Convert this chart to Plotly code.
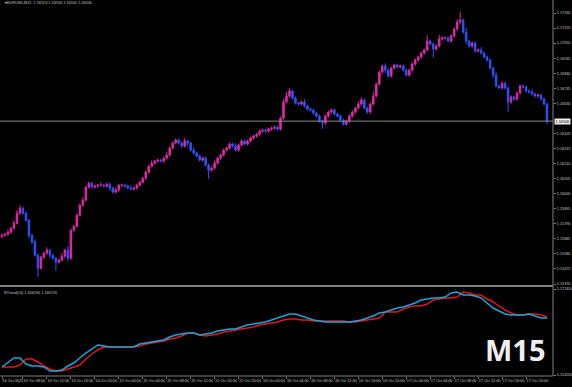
import plotly.graph_objects as go
import pandas as pd

# ---------------- data ----------------
symbol_title = "EURUSD,M15  1.16523 1.16530 1.16501 1.16506"
indicator_title = "NTrend(14) 1.166290 1.166726"
timeframe_label = "M15"

first_open = 1.15700
closes = [
    1.15710, 1.15717, 1.15731, 1.15759, 1.15794, 1.15864, 1.15899, 1.15864, 1.15815, 1.15710,
    1.15662, 1.15571, 1.15480, 1.15557, 1.15585, 1.15606, 1.15571, 1.15550, 1.15522, 1.15536,
    1.15564, 1.15606, 1.15550, 1.15745, 1.15773, 1.15850, 1.15920, 1.15955, 1.16046, 1.16073,
    1.16046, 1.16053, 1.16059, 1.16059, 1.16053, 1.16066, 1.16039, 1.16011, 1.16025, 1.16059,
    1.16059, 1.16053, 1.16039, 1.16032, 1.16039, 1.16059, 1.16080, 1.16108, 1.16150, 1.16192,
    1.16213, 1.16227, 1.16234, 1.16227, 1.16248, 1.16269, 1.16318, 1.16353, 1.16374, 1.16353,
    1.16332, 1.16367, 1.16353, 1.16304, 1.16283, 1.16262, 1.16234, 1.16248, 1.16199, 1.16164,
    1.16178, 1.16213, 1.16248, 1.16269, 1.16304, 1.16318, 1.16346, 1.16332, 1.16304, 1.16339,
    1.16367, 1.16346, 1.16367, 1.16388, 1.16401, 1.16415, 1.16436, 1.16443, 1.16436, 1.16450,
    1.16457, 1.16464, 1.16450, 1.16527, 1.16639, 1.16681, 1.16716, 1.16667, 1.16632, 1.16625,
    1.16639, 1.16611, 1.16590, 1.16583, 1.16562, 1.16541, 1.16506, 1.16492, 1.16541, 1.16569,
    1.16583, 1.16555, 1.16541, 1.16513, 1.16485, 1.16506, 1.16541, 1.16569, 1.16597, 1.16625,
    1.16653, 1.16597, 1.16569, 1.16625, 1.16681, 1.16764, 1.16848, 1.16890, 1.16862, 1.16820,
    1.16876, 1.16897, 1.16883, 1.16890, 1.16862, 1.16827, 1.16862, 1.16904, 1.16932, 1.16953,
    1.16981, 1.17002, 1.17065, 1.17044, 1.17009, 1.17030, 1.17079, 1.17086, 1.17086, 1.17065,
    1.17100, 1.17148, 1.17197, 1.17211, 1.17127, 1.17065, 1.17030, 1.17051, 1.16995, 1.17002,
    1.16981, 1.16953, 1.16932, 1.16876, 1.16827, 1.16751, 1.16737, 1.16771, 1.16737, 1.16639,
    1.16674, 1.16660, 1.16702, 1.16751, 1.16744, 1.16716, 1.16709, 1.16695, 1.16681, 1.16688,
    1.16660, 1.16625, 1.16506,
]
# wick lengths beyond the body, in pips
wick_up = [
    1, 1, 2, 1, 2, 2, 2, 1, 1, 1, 1, 2, 1, 1, 1, 2, 1, 1, 1, 1,
    2, 1, 3, 1, 1, 1, 1, 2, 1, 1, 1, 1, 1, 2, 1, 1, 1, 1, 2, 1,
    1, 1, 1, 2, 1, 1, 1, 1, 1, 1, 2, 1, 1, 1, 1, 2, 1, 1, 1, 1,
    1, 2, 1, 1, 2, 1, 1, 1, 1, 1, 1, 2, 1, 1, 1, 1, 1, 1, 2, 1,
    1, 1, 1, 1, 1, 1, 1, 1, 1, 1, 1, 1, 1, 1, 2, 3, 2, 1, 1, 1,
    1, 2, 1, 1, 1, 1, 1, 1, 1, 1, 1, 1, 1, 1, 1, 1, 1, 1, 1, 2,
    2, 1, 1, 1, 3, 1, 1, 1, 2, 1, 1, 1, 1, 1, 1, 1, 1, 1, 1, 1,
    1, 1, 4, 1, 1, 1, 3, 1, 1, 1, 1, 1, 2, 6, 1, 3, 1, 1, 1, 1,
    2, 1, 1, 1, 1, 2, 1, 1, 1, 1, 1, 1, 1, 1, 1, 1, 1, 2, 1, 1,
    1, 1, 1,
]
wick_down = [
    1, 1, 1, 1, 1, 1, 1, 1, 1, 2, 1, 1, 6, 1, 1, 1, 2, 1, 6, 1,
    1, 1, 2, 1, 1, 1, 1, 1, 1, 1, 1, 1, 1, 1, 1, 1, 2, 1, 1, 1,
    1, 1, 1, 1, 1, 1, 1, 1, 1, 1, 1, 1, 1, 1, 1, 1, 1, 1, 1, 1,
    1, 1, 2, 1, 1, 1, 1, 1, 1, 6, 1, 1, 1, 1, 1, 1, 1, 1, 1, 1,
    1, 1, 1, 1, 1, 1, 1, 1, 1, 1, 1, 1, 1, 1, 1, 1, 1, 1, 1, 1,
    1, 1, 1, 1, 1, 1, 1, 4, 1, 1, 1, 1, 1, 1, 1, 1, 1, 1, 1, 1,
    1, 1, 1, 1, 1, 1, 1, 1, 2, 1, 1, 1, 1, 1, 1, 1, 1, 1, 1, 1,
    1, 1, 1, 1, 6, 1, 1, 1, 1, 1, 1, 1, 1, 1, 1, 2, 1, 1, 1, 1,
    1, 1, 1, 1, 2, 1, 1, 1, 1, 7, 1, 1, 1, 1, 1, 1, 1, 1, 1, 1,
    1, 1, 2,
]

# indicator lines (one value every 2 bars)
cyan_vals = [
    1.15590, 1.15696, 1.15781, 1.15781, 1.15653, 1.15611, 1.15611, 1.15590, 1.15505, 1.15505,
    1.15526, 1.15611, 1.15675, 1.15781, 1.15887, 1.15972, 1.16057, 1.16036, 1.16014, 1.16014,
    1.16014, 1.16014, 1.16014, 1.16078, 1.16099, 1.16120, 1.16142, 1.16163, 1.16227, 1.16269,
    1.16290, 1.16312, 1.16312, 1.16269, 1.16290, 1.16312, 1.16354, 1.16375, 1.16396, 1.16396,
    1.16439, 1.16481, 1.16503, 1.16524, 1.16545, 1.16587, 1.16630, 1.16672, 1.16715, 1.16715,
    1.16672, 1.16630, 1.16587, 1.16566, 1.16545, 1.16545, 1.16545, 1.16545, 1.16545, 1.16566,
    1.16587, 1.16630, 1.16672, 1.16736, 1.16757, 1.16800, 1.16842, 1.16863, 1.16906, 1.16948,
    1.17012, 1.17033, 1.17054, 1.17054, 1.17076, 1.17161, 1.17182, 1.17118, 1.17118, 1.17097,
    1.17054, 1.16948, 1.16842, 1.16778, 1.16715, 1.16694, 1.16694, 1.16694, 1.16715, 1.16672,
    1.16630, 1.16630,
]
red_vals = [
    1.15590, 1.15590, 1.15590, 1.15632, 1.15760, 1.15760, 1.15696, 1.15611, 1.15547, 1.15505,
    1.15505, 1.15547, 1.15590, 1.15632, 1.15760, 1.15866, 1.15951, 1.16014, 1.16014, 1.16014,
    1.16014, 1.16014, 1.16014, 1.16036, 1.16078, 1.16099, 1.16120, 1.16142, 1.16184, 1.16205,
    1.16248, 1.16312, 1.16312, 1.16269, 1.16248, 1.16269, 1.16290, 1.16333, 1.16354, 1.16375,
    1.16396, 1.16418, 1.16439, 1.16481, 1.16503, 1.16524, 1.16545, 1.16587, 1.16609, 1.16609,
    1.16587, 1.16587, 1.16566, 1.16566, 1.16566, 1.16566, 1.16566, 1.16566, 1.16545, 1.16545,
    1.16566, 1.16587, 1.16609, 1.16630, 1.16757, 1.16757, 1.16757, 1.16821, 1.16863, 1.16885,
    1.16885, 1.16927, 1.17012, 1.17033, 1.17054, 1.17054, 1.17076, 1.17182, 1.17161, 1.17118,
    1.17118, 1.17033, 1.16970, 1.16885, 1.16800, 1.16736, 1.16694, 1.16694, 1.16715, 1.16715,
    1.16694, 1.16651,
]

price_tick_labels = [
    "1.15370", "1.15475", "1.15580", "1.15685", "1.15790", "1.15895", "1.16000",
    "1.16105", "1.16210", "1.16315", "1.16420", "1.16630", "1.16735", "1.16840",
    "1.16945", "1.17050", "1.17155", "1.17260",
]
ind_tick_labels = ["1.154200", "1.172454"]
time_tick_labels = [
    "14 Oct 2025", "14 Oct 08:00", "14 Oct 12:00", "14 Oct 16:00", "14 Oct 20:00",
    "15 Oct 00:00", "15 Oct 04:00", "15 Oct 08:00", "15 Oct 12:00", "15 Oct 16:00",
    "15 Oct 20:00", "16 Oct 00:00", "16 Oct 04:00", "16 Oct 08:00", "16 Oct 12:00",
    "16 Oct 16:00", "16 Oct 20:00", "17 Oct 00:00", "17 Oct 04:00", "17 Oct 08:00",
    "17 Oct 12:00", "17 Oct 16:00", "17 Oct 20:00",
]

# ---------------- derived ----------------
start = pd.Timestamp("2025-10-14 04:30")
times = pd.date_range(start, periods=len(closes), freq="30min")
opens = [first_open] + closes[:-1]
highs = [max(o, c) + u * 0.0001 for o, c, u in zip(opens, closes, wick_up)]
lows = [min(o, c) - d * 0.0001 for o, c, d in zip(opens, closes, wick_down)]
ind_times = times[::2]

tick_vals = []
for lab in time_tick_labels:
    if ":" in lab:
        tick_vals.append(pd.to_datetime("2025 " + lab, format="%Y %d %b %H:%M"))
    else:
        tick_vals.append(start)

FG = "#c8c8c8"
GRID = "#808080"
BULL = "#e626a8"
BEAR = "#2a55ff"
SMALL = dict(family="Liberation Sans, Arial", size=3.8, color=FG)

fig = go.Figure()
fig.add_trace(go.Candlestick(
    x=times, open=opens, high=highs, low=lows, close=closes,
    xaxis="x2", yaxis="y2",
    increasing=dict(line=dict(color=BULL, width=1), fillcolor=BULL),
    decreasing=dict(line=dict(color=BEAR, width=1), fillcolor=BEAR),
    whiskerwidth=0, showlegend=False, hoverinfo="skip",
))
fig.add_trace(go.Scatter(
    x=ind_times[:len(red_vals)], y=red_vals, mode="lines",
    line=dict(color="#e21818", width=1.5), showlegend=False, hoverinfo="skip",
))
fig.add_trace(go.Scatter(
    x=ind_times[:len(cyan_vals)], y=cyan_vals, mode="lines",
    line=dict(color="#1aa6dc", width=1.5), showlegend=False, hoverinfo="skip",
))

x_range = [start - pd.Timedelta(minutes=20), start + pd.Timedelta(hours=92)]

top_dom = [(376 - 285) / 376, 1.0]
bot_dom = [0.0, (376 - 288) / 376]

fig.update_layout(
    width=572, height=387,
    margin=dict(l=0, r=19, t=0, b=11),
    paper_bgcolor="black", plot_bgcolor="black",
    showlegend=False,
    xaxis=dict(
        domain=[0, 1], anchor="y", range=x_range,
        tickvals=tick_vals, ticktext=time_tick_labels, tickangle=0,
        ticklabelposition="outside right", ticks="outside", ticklen=2,
        tickcolor=GRID, tickfont=SMALL, showgrid=False, zeroline=False,
        showline=False, rangeslider=dict(visible=False),
    ),
    xaxis2=dict(
        domain=[0, 1], anchor="y2", matches="x", range=x_range,
        showticklabels=False, showgrid=False, zeroline=False, showline=False,
        ticks="", rangeslider=dict(visible=False),
    ),
    yaxis=dict(
        domain=bot_dom, range=[1.15399, 1.17267], side="right",
        tickvals=[float(v) for v in ind_tick_labels], ticktext=ind_tick_labels,
        ticks="outside", ticklen=2, tickcolor=GRID, tickfont=SMALL,
        showgrid=False, zeroline=False, showline=False,
    ),
    yaxis2=dict(
        domain=top_dom, range=[1.15363, 1.17351], side="right", anchor="x2",
        tickvals=[float(v) for v in price_tick_labels], ticktext=price_tick_labels,
        ticks="outside", ticklen=2, tickcolor=GRID, tickfont=SMALL,
        showgrid=False, zeroline=False, showline=False,
    ),
)

shapes = [
    # bid line
    dict(type="line", xref="paper", x0=0, x1=1, yref="y2",
         y0=closes[-1], y1=closes[-1], line=dict(color="#8a8a8a", width=1)),
    # right axis line
    dict(type="line", xref="paper", x0=1, x1=1, yref="paper", y0=0, y1=1,
         line=dict(color=GRID, width=1)),
    # pane separator
    dict(type="line", xref="paper", x0=0, x1=1, yref="paper",
         y0=(376 - 286) / 376, y1=(376 - 286) / 376, line=dict(color=GRID, width=2)),
    # bottom frame
    dict(type="line", xref="paper", x0=0, x1=1, yref="paper", y0=0, y1=0,
         line=dict(color=GRID, width=1)),
]
fig.update_layout(shapes=shapes)

fig.add_annotation(
    x=1, xref="paper", xanchor="left", xshift=1,
    y=closes[-1], yref="y2", yanchor="middle",
    text=f"{closes[-1]:.5f}", showarrow=False,
    bgcolor="#ececec", borderpad=0.5,
    font=dict(family="Liberation Sans, Arial", size=3.8, color="black"),
)
fig.add_annotation(
    x=0.006, xref="paper", xanchor="left", y=1, yref="paper", yanchor="top",
    yshift=1, text="▾" + symbol_title, showarrow=False, font=SMALL,
)
fig.add_annotation(
    x=0.004, xref="paper", xanchor="left", y=bot_dom[1], yref="paper",
    yanchor="top", yshift=-1, text=indicator_title, showarrow=False, font=SMALL,
)
fig.add_annotation(
    x=548 / 553, xref="paper", xanchor="right",
    y=(376 - 349) / 376, yref="paper", yanchor="middle",
    text="<b>" + timeframe_label + "</b>", showarrow=False,
    font=dict(family="Open Sans", size=29, color="#eeeeee"),
)

fig.write_html(
    "out.html",
    config={"displayModeBar": False},
    post_script="document.body.style.margin='0px';document.body.style.overflow='hidden';",
)
